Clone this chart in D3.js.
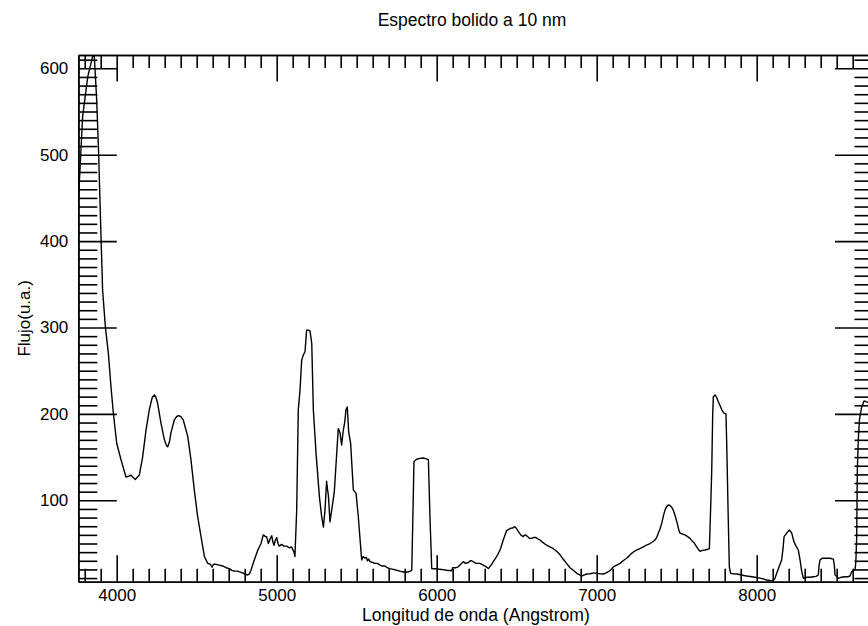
<!DOCTYPE html>
<html>
<head>
<meta charset="utf-8">
<script src="https://cdn.jsdelivr.net/npm/d3@7/dist/d3.min.js"></script>
<style>
  html, body { margin: 0; padding: 0; background: #fff; }
  svg { display: block; }
  text { font-family: "Liberation Sans", Arial, Helvetica, sans-serif; fill: #000; }
</style>
</head>
<body>
<svg id="chart" width="868" height="626"></svg>
<script>
// ---- Data ----
const titleText = "Espectro bolido a 10 nm";
const xLabelText = "Longitud de onda (Angstrom)";
const yLabelText = "Flujo(u.a.)";

const xDomain = [3760, 8730];
const yDomain = [5.8, 615.4];
const xMajorTicks = [4000, 5000, 6000, 7000, 8000];
const yMajorTicks = [100, 200, 300, 400, 500, 600];

const wavelength = [
  3762, 3787, 3819, 3850, 3860, 3875, 3887, 3902, 3912, 3929, 3948, 3964, 3979, 4000,
  4027, 4058, 4075, 4089, 4105, 4116, 4130, 4141, 4162, 4183, 4204, 4222, 4235, 4246,
  4256, 4277, 4298, 4312, 4319, 4330, 4339, 4360, 4375, 4387, 4400, 4416, 4444, 4464,
  4485, 4506, 4527, 4548, 4569, 4585, 4596, 4605, 4616, 4640, 4662, 4684, 4704, 4720,
  4735, 4755, 4777, 4800, 4819, 4830, 4839, 4860, 4881, 4902, 4916, 4930, 4937, 4948,
  4958, 4969, 4976, 4983, 4992, 5000, 5008, 5016, 5031, 5045, 5062, 5080, 5094, 5108,
  5114, 5125, 5135, 5146, 5156, 5166, 5177, 5187, 5198, 5208, 5219, 5229, 5246, 5267,
  5281, 5292, 5302, 5312, 5318, 5323, 5333, 5344, 5360, 5375, 5385, 5396, 5400, 5406,
  5416, 5425, 5433, 5441, 5450, 5462, 5479, 5496, 5510, 5531, 5540, 5552, 5560, 5567,
  5575, 5583, 5600, 5614, 5630, 5646, 5660, 5677, 5690, 5708, 5730, 5750, 5770, 5792,
  5820, 5844, 5851, 5858, 5875, 5895, 5916, 5935, 5948, 5958, 5969, 6000, 6030, 6062,
  6094, 6100, 6120, 6135, 6150, 6166, 6180, 6198, 6210, 6219, 6235, 6250, 6270, 6291,
  6310, 6323, 6340, 6354, 6375, 6396, 6416, 6437, 6462, 6475, 6489, 6500, 6510, 6525,
  6541, 6552, 6562, 6580, 6594, 6608, 6621, 6635, 6646, 6665, 6687, 6708, 6729, 6750,
  6771, 6790, 6812, 6833, 6854, 6875, 6891, 6906, 6920, 6937, 6960, 6980, 7000, 7020,
  7041, 7060, 7073, 7090, 7104, 7125, 7146, 7165, 7187, 7205, 7219, 7235, 7250, 7270,
  7291, 7310, 7333, 7350, 7364, 7375, 7385, 7396, 7406, 7417, 7427, 7438, 7448, 7458,
  7469, 7480, 7489, 7504, 7514, 7521, 7535, 7552, 7568, 7583, 7596, 7608, 7625, 7636,
  7646, 7660, 7677, 7690, 7704, 7712, 7719, 7725, 7729, 7740, 7750, 7760, 7770, 7781,
  7795, 7808, 7812, 7816, 7822, 7829, 7837, 7855, 7875, 7900, 7920, 7937, 7960, 7989,
  8021, 8040, 8062, 8085, 8104, 8115, 8125, 8140, 8156, 8165, 8171, 8187, 8196, 8204,
  8212, 8219, 8226, 8233, 8246, 8260, 8266, 8271, 8281, 8292, 8312, 8333, 8354, 8370,
  8385, 8390, 8396, 8412, 8435, 8458, 8479, 8485, 8490, 8510, 8530, 8552, 8570, 8583,
  8594, 8605, 8615, 8620, 8625, 8629, 8635, 8642, 8656, 8671, 8687, 8710, 8730
];
const flux = [
  451, 544, 590, 614, 614, 563, 502, 405, 343, 301, 270, 232, 201, 166,
  147, 127, 128, 129, 126, 124, 127, 129, 150, 181, 205, 219, 222, 219,
  212, 189, 170, 163, 162, 168, 178, 193, 197, 198, 197, 193, 174, 147,
  112, 81, 58, 35, 27, 26, 22.5, 26, 26, 25, 24, 22, 21, 19,
  18, 18, 16.6, 15, 13.5, 15, 19, 31, 42, 50, 60, 58, 58, 50,
  55, 59, 52, 48, 54, 57, 50, 47, 49, 47, 47, 45, 46, 40,
  35, 89, 205, 228, 262, 268, 272, 297, 297, 296, 282, 205, 154, 104,
  81, 69, 89, 122, 112, 106, 75, 89, 110, 154, 183, 178, 172, 164,
  181, 190, 205, 208, 179, 166, 112, 108, 81, 31, 35, 33, 34, 30,
  32, 29, 28, 27, 27, 25, 24, 24, 22, 21, 20, 19, 18, 17,
  17, 19, 80, 145, 147.5, 148.5, 149, 148, 147, 80, 21, 20.5, 20, 19,
  18.5, 22, 22, 23, 26, 29, 27, 28, 30, 30, 28, 27, 27, 25,
  23, 21, 25, 29, 35, 42.5, 54, 65, 67.6, 68, 69.5, 67, 64, 60,
  58, 60, 59, 56, 56, 57, 57, 55, 54, 51, 48, 46, 44, 41,
  37, 32, 27, 22, 19, 15.5, 14, 12.4, 13.5, 14.7, 15, 16, 15.5, 15,
  14.7, 16, 17.4, 20, 23, 25, 27, 30, 33, 36, 38.6, 41, 42.5, 44,
  46, 48, 50, 52, 54, 57, 62, 67, 73, 82, 89, 93, 94.6, 94,
  92, 88, 83, 73, 65, 62, 61, 60, 58, 56, 53, 51, 46, 43,
  41, 42, 42.5, 43, 44, 90, 135, 200, 220, 222, 219, 214, 210, 205,
  201, 200, 170, 135, 80, 23, 15.5, 15, 14.7, 13.8, 13, 12.4, 11.8, 10.9,
  10, 9, 7.8, 7.2, 7, 10, 15.5, 23, 31, 45, 58, 62, 64, 65.6,
  64, 62, 57, 52, 47, 42.5, 36, 31, 18, 9.7, 10.9, 11, 11.6, 12,
  13.5, 25, 31, 33, 33, 33, 32, 25, 13.5, 9.7, 11, 11.6, 11.5, 12.4,
  17.4, 18.5, 20, 30, 58, 135, 170, 193, 208, 215, 214, 212, 210
];

// ---- Layout ----
const W = 868, H = 626;
const plotLeft = 78.3, plotRight = 873.5, plotTop = 55, plotBottom = 581.7;

const x = d3.scaleLinear().domain(xDomain).range([plotLeft, plotRight]);
const y = d3.scaleLinear().domain(yDomain).range([plotBottom, plotTop]);

const svg = d3.select("#chart");

const xMinor = d3.range(3800, 8701, 100).filter(v => xMajorTicks.indexOf(v) < 0);
const yMinor = d3.range(10, 611, 10).filter(v => yMajorTicks.indexOf(v) < 0);

const XMAJ = 26.5, XMIN = 13, YMAJ = 38.5, YMIN = 19;
const axisStroke = 1.6;

function styleAxis(g) {
  g.selectAll("path.domain").attr("stroke", "#000").attr("stroke-width", axisStroke);
  g.selectAll(".tick line").attr("stroke", "#000").attr("stroke-width", axisStroke);
  g.selectAll(".tick text").attr("font-size", 17).attr("fill", "#000")
    .attr("font-family", "'Liberation Sans', Arial, Helvetica, sans-serif");
}

// Bottom axis
svg.append("g").attr("transform", `translate(0,${plotBottom})`)
  .call(d3.axisBottom(x).tickValues(xMinor).tickSizeInner(-XMIN).tickSizeOuter(0).tickFormat(""))
  .call(styleAxis);
svg.append("g").attr("transform", `translate(0,${plotBottom})`)
  .call(d3.axisBottom(x).tickValues(xMajorTicks).tickSizeInner(-XMAJ).tickSizeOuter(0)
    .tickPadding(7).tickFormat(d3.format("d")))
  .call(styleAxis);

// Top axis
svg.append("g").attr("transform", `translate(0,${plotTop})`)
  .call(d3.axisTop(x).tickValues(xMinor).tickSizeInner(-XMIN).tickSizeOuter(0).tickFormat(""))
  .call(styleAxis);
svg.append("g").attr("transform", `translate(0,${plotTop})`)
  .call(d3.axisTop(x).tickValues(xMajorTicks).tickSizeInner(-XMAJ).tickSizeOuter(0).tickFormat(""))
  .call(styleAxis);

// Left axis
svg.append("g").attr("transform", `translate(${plotLeft},0)`)
  .call(d3.axisLeft(y).tickValues(yMinor).tickSizeInner(-YMIN).tickSizeOuter(0).tickFormat(""))
  .call(styleAxis);
svg.append("g").attr("transform", `translate(${plotLeft},0)`)
  .call(d3.axisLeft(y).tickValues(yMajorTicks).tickSizeInner(-YMAJ).tickSizeOuter(0)
    .tickPadding(10).tickFormat(d3.format("d")))
  .call(styleAxis);

// Right axis
svg.append("g").attr("transform", `translate(${plotRight},0)`)
  .call(d3.axisRight(y).tickValues(yMinor).tickSizeInner(-YMIN).tickSizeOuter(0).tickFormat(""))
  .call(styleAxis);
svg.append("g").attr("transform", `translate(${plotRight},0)`)
  .call(d3.axisRight(y).tickValues(yMajorTicks).tickSizeInner(-YMAJ).tickSizeOuter(0).tickFormat(""))
  .call(styleAxis);

// Clip
svg.append("clipPath").attr("id", "plotclip")
  .append("rect").attr("x", plotLeft).attr("y", plotTop)
  .attr("width", plotRight - plotLeft).attr("height", plotBottom - plotTop);

// Spectrum line
const pts = wavelength.map((w, i) => [w, flux[i]]);
const line = d3.line().x(d => x(d[0])).y(d => y(d[1]));
svg.append("path")
  .attr("clip-path", "url(#plotclip)")
  .attr("d", line(pts))
  .attr("fill", "none")
  .attr("stroke", "#000")
  .attr("stroke-width", 1.4)
  .attr("stroke-linejoin", "round");

// Titles
svg.append("text").attr("x", 472).attr("y", 26)
  .attr("text-anchor", "middle").attr("font-size", 17.5).text(titleText);
svg.append("text").attr("x", (plotLeft + plotRight) / 2).attr("y", 620.5)
  .attr("text-anchor", "middle").attr("font-size", 17.6).text(xLabelText);
svg.append("text").attr("transform", `translate(30,${(plotTop + plotBottom) / 2}) rotate(-90)`)
  .attr("text-anchor", "middle").attr("font-size", 17).attr("fill", "#000").text(yLabelText);
</script>
</body>
</html>
